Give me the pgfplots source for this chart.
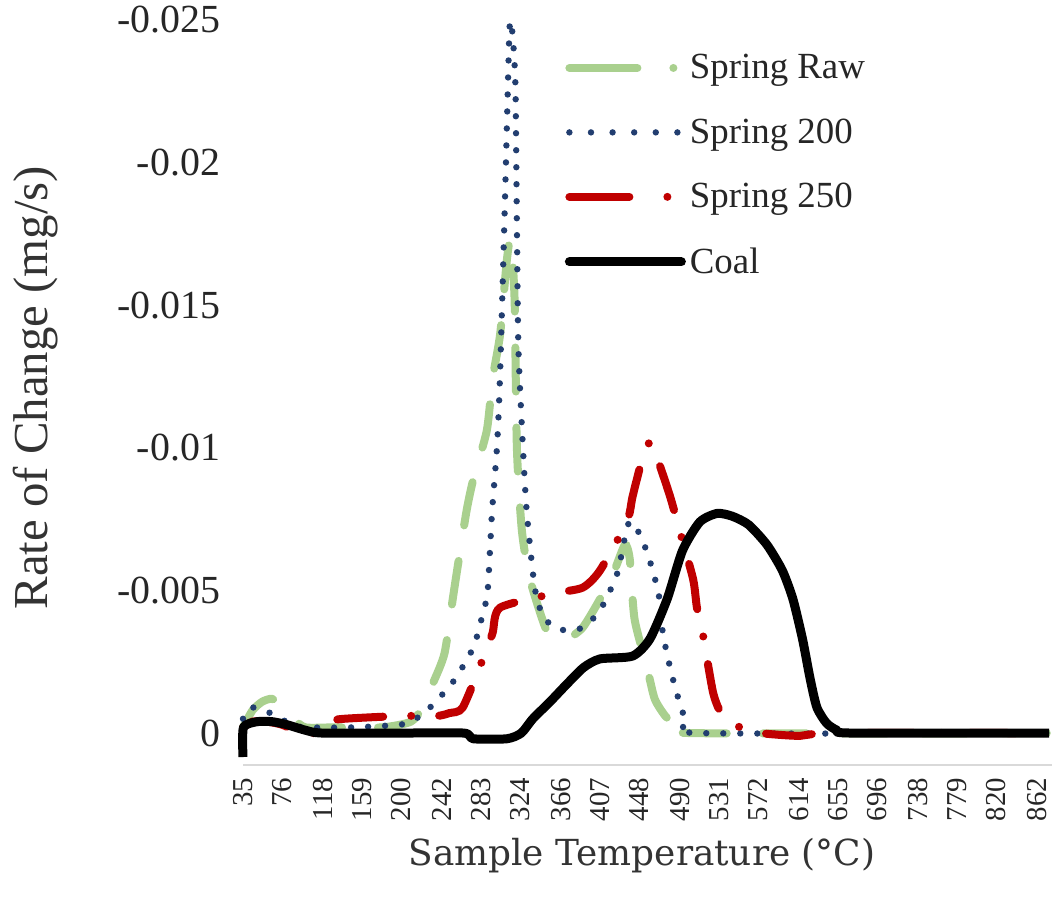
\documentclass[border=0pt]{standalone}
\usepackage{fontspec}
\setmainfont{Liberation Serif}
\newfontfamily\xlabfont{DejaVu Serif}
\usepackage{pgfplots}
\pgfplotsset{compat=1.18}
\definecolor{cgreen}{RGB}{169,208,142}
\definecolor{cblue}{RGB}{34,62,112}
\definecolor{cred}{RGB}{192,0,0}
\begin{document}
\begin{tikzpicture}
\path[use as bounding box] (0,0) rectangle (532bp,456bp);
\begin{axis}[
  at={(121.5bp,73.5bp)}, anchor=south west,
  scale only axis, width=404.5bp, height=382.5bp,
  xmin=35, xmax=878,
  ymin=-0.0257, ymax=0.00112,
  y dir=reverse,
  axis line style={draw=none},
  major tick length=0pt,
  xtick={35,76,118,159,200,242,283,324,366,407,448,490,531,572,614,655,696,738,779,820,862},
  xticklabels={35,76,118,159,200,242,283,324,366,407,448,490,531,572,614,655,696,738,779,820,862},
  xticklabel style={rotate=90, anchor=east, font=\fontsize{14.5}{17}\selectfont, xshift=-3bp},
  ytick={-0.025,-0.02,-0.015,-0.01,-0.005,0},
  yticklabels={-0.025,-0.02,-0.015,-0.01,-0.005,0},
  yticklabel style={anchor=east, font=\fontsize{20}{23}\selectfont, xshift=-8bp},
  xlabel={Sample Temperature (°C)},
  ylabel={Rate of Change (mg/s)},
  every axis x label/.style={at={(axis description cs:0.493,-0.118)}, anchor=center, font=\xlabfont\fontsize{18}{21}\selectfont, text=black!80},
  every axis y label/.style={at={(axis description cs:-0.257,0.493)}, anchor=center, rotate=90, font=\fontsize{24.5}{27}\selectfont, text=black!80},
  tick label style={text=black!85},
  legend style={draw=none, fill=none, at={(axis description cs:0.39,0.94)}, anchor=north west,
    font=\fontsize{18.5}{21}\selectfont, row sep=14.5bp, text=black!85,
    /tikz/every even column/.append style={column sep=0bp}},
  legend cell align=left,
  clip=false,
]
\draw[gray!30, line width=1bp] (axis cs:35,0.00112) -- (axis cs:878,0.00112);

\addplot[cgreen, line width=4bp, line cap=round, dash pattern=on 22bp off 18bp, smooth, tension=0.4,
  legend image code/.code={\draw[cgreen, line width=4bp, line cap=round, dash pattern=on 34bp off 18bp on 0bp off 20bp] (2bp,0bp) -- (56bp,0bp);}]
coordinates {
(35,-0.0002) (45,-0.0008) (55,-0.0011) (65,-0.0012) (75,-0.0010) (88,-0.0005) (100,-0.0002)
(130,-0.0002) (180,-0.0002) (210,-0.0004) (222,-0.0009) (233,-0.00175) (245,-0.0028)
(254,-0.0048) (259,-0.0059) (268,-0.0078) (275,-0.0089) (289,-0.0106) (295,-0.0124)
(303,-0.0140) (310,-0.0166) (314,-0.0173) (318,-0.0152) (320.4,-0.0100) (325.6,-0.0071)
(334,-0.0054) (350,-0.0037) (360,-0.0033) (373,-0.0033) (389,-0.0037) (407,-0.0047)
(422,-0.0057) (433,-0.0066) (438,-0.0061) (443,-0.0040) (456,-0.0023) (464,-0.0012)
(475,-0.0006) (485,-0.0003) (501,0) (878,0)
};
\addlegendentry{Spring Raw}

\addplot[cblue, line width=3.2bp, line cap=round, dash pattern=on 0bp off 8.5bp, smooth, tension=0.4,
  legend image code/.code={\draw[cblue, line width=3.2bp, line cap=round, dash pattern=on 0bp off 10.8bp] (2bp,0bp) -- (58bp,0bp);}]
coordinates {
(35,-0.0005) (42,-0.0009) (56,-0.0008) (70,-0.0006) (85,-0.0003) (100,-0.0002) (150,-0.0002)
(200,-0.0003) (215,-0.0005) (230,-0.0009) (254,-0.0018) (275,-0.0030) (285,-0.0042)
(290,-0.0050) (294.4,-0.0077) (299.6,-0.0100) (302.7,-0.0124) (308,-0.0187) (312.5,-0.0245)
(314.5,-0.0249) (317,-0.0240) (319,-0.0225) (320.5,-0.0175) (322,-0.0135) (326.7,-0.0100)
(330.8,-0.0077) (339,-0.0051) (347.5,-0.0041) (360,-0.0037) (372.5,-0.0036) (389,-0.0037)
(407,-0.0043) (425,-0.0056) (435,-0.0072) (441,-0.0074) (452,-0.0067) (462,-0.0057)
(469,-0.0047) (472.5,-0.0035) (480,-0.0023) (487,-0.0014) (497.5,-0.00035) (511,0) (878,0)
};
\addlegendentry{Spring 200}

\addplot[cred, line width=4bp, line cap=round, dash pattern=on 23bp off 14bp on 0bp off 14bp, smooth, tension=0.4,
  legend image code/.code={\draw[cred, line width=4bp, line cap=round, dash pattern=on 30bp off 19bp on 0bp off 20bp] (2bp,0bp) -- (56bp,0bp);}]
coordinates {
(35,-0.0002) (45,-0.0004) (60,-0.0004) (75,-0.0003) (90,-0.0001) (110,0) (125,-0.0004)
(140,-0.0005) (200,-0.0006) (237,-0.0006) (250,-0.0007) (264,-0.0009) (285,-0.0026)
(295,-0.0035) (303,-0.0044) (360,-0.0049) (389,-0.0051) (407,-0.0057) (435,-0.0074)
(441,-0.0083) (451,-0.0096) (459,-0.0102) (467,-0.0096) (480,-0.0083) (490,-0.0071)
(504,-0.0054) (508,-0.0044) (514,-0.0035) (525,-0.0014) (535,-0.0006) (553,-0.0002)
(574,0) (615,0.0001) (650,0) (878,0)
};
\addlegendentry{Spring 250}

\addplot[black, line width=4.5bp, line join=round, smooth, tension=0.4,
  legend image code/.code={\draw[black, line width=4.5bp, line cap=round] (2bp,0bp) -- (58bp,0bp);}]
coordinates {
(35,0.00084) (35.5,-0.0002) (50,-0.0004) (65,-0.0004) (80,-0.0003) (100,-0.0001) (118,0)
(200,0) (265,0) (275,0.0002) (310,0.0002) (325,0) (337,-0.0005) (355,-0.0011) (372,-0.0017)
(390,-0.0023) (407,-0.0026) (441,-0.0027) (459,-0.0033) (477,-0.0047) (493,-0.0064)
(511,-0.0074) (529,-0.0077) (545,-0.0076) (562,-0.0073) (581,-0.0066) (597,-0.0057)
(608,-0.0047) (618,-0.0033) (626,-0.0019) (633,-0.0009) (643,-0.00035) (654,-0.0001)
(670,0) (875,0)
};
\addlegendentry{Coal}
\end{axis}
\end{tikzpicture}
\end{document}
